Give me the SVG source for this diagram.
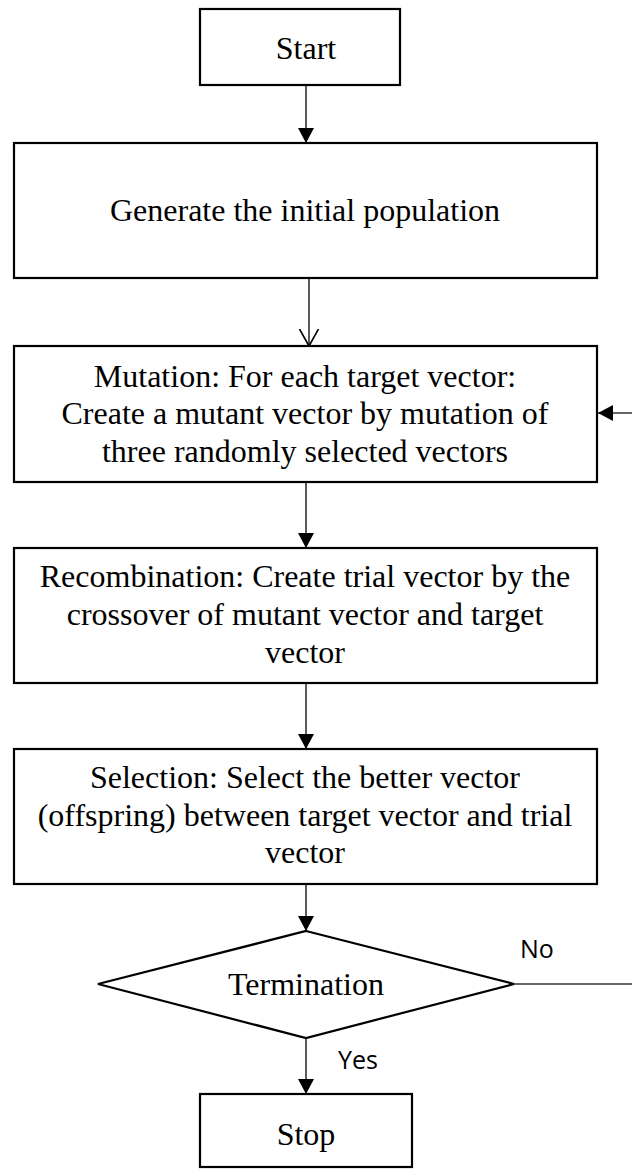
<svg xmlns="http://www.w3.org/2000/svg" width="632" height="1169" viewBox="0 0 632 1169">
<defs>
<style>
.box{fill:#fff;stroke:#000;stroke-width:2.2}
.t{font-family:"Liberation Serif","Times New Roman",serif;font-size:32px;fill:#000;text-anchor:middle}
.s{font-family:"Open Sans","Liberation Sans",sans-serif;font-size:25px;fill:#000}
.c{fill:none;stroke:#333;stroke-width:1.6}
</style>
<marker id="fa" markerWidth="16" markerHeight="16" refX="15" refY="8" orient="auto" markerUnits="userSpaceOnUse">
<path d="M0,0 L15,8 L0,16 Z" fill="#000"/>
</marker>
<marker id="oa" markerWidth="20" markerHeight="22" refX="17" refY="10" orient="auto" markerUnits="userSpaceOnUse">
<path d="M0,0.5 L17,10 L0,19.5" fill="none" stroke="#000" stroke-width="1.6"/>
</marker>
</defs>
<rect width="632" height="1169" fill="#fff"/>
<g id="connectors">
<line class="c" x1="306" y1="85" x2="306" y2="143" marker-end="url(#fa)"/>
<line class="c" x1="309" y1="278" x2="309" y2="346" marker-end="url(#oa)"/>
<line class="c" x1="306" y1="482" x2="306" y2="548" marker-end="url(#fa)"/>
<line class="c" x1="306" y1="683" x2="306" y2="749" marker-end="url(#fa)"/>
<line class="c" x1="306" y1="884" x2="306" y2="931" marker-end="url(#fa)"/>
<line class="c" x1="306" y1="1038" x2="306" y2="1094" marker-end="url(#fa)"/>
<line class="c" x1="514" y1="984" x2="632" y2="984"/>
<line class="c" x1="632" y1="413" x2="598" y2="413" marker-end="url(#fa)"/>
<text class="s" x="520" y="958">No</text>
<text class="s" x="338" y="1069">Yes</text>
</g>
<g id="start">
<rect class="box" x="200" y="9" width="200" height="76"/>
<text class="t" x="306" y="59">Start</text>
</g>
<g id="generate">
<rect class="box" x="14" y="143" width="583" height="135"/>
<text class="t" x="305" y="221">Generate the initial population</text>
</g>
<g id="mutation">
<rect class="box" x="14" y="346" width="583" height="136"/>
<text class="t" x="305" y="387">Mutation: For each target vector:</text>
<text class="t" x="305" y="424">Create a mutant vector by mutation of</text>
<text class="t" x="305" y="462">three randomly selected vectors</text>
</g>
<g id="recombination">
<rect class="box" x="14" y="548" width="583" height="135"/>
<text class="t" x="305" y="587">Recombination: Create trial vector by the</text>
<text class="t" x="305" y="625">crossover of mutant vector and target</text>
<text class="t" x="305" y="663">vector</text>
</g>
<g id="selection">
<rect class="box" x="14" y="749" width="583" height="135"/>
<text class="t" x="305" y="788">Selection: Select the better vector</text>
<text class="t" x="305" y="826">(offspring) between target vector and trial</text>
<text class="t" x="305" y="863">vector</text>
</g>
<g id="termination">
<polygon class="box" points="306,931 514,984 306,1038 98,984"/>
<text class="t" x="306" y="995">Termination</text>
</g>
<g id="stop">
<rect class="box" x="200" y="1094" width="212" height="73"/>
<text class="t" x="306" y="1145">Stop</text>
</g>
</svg>
